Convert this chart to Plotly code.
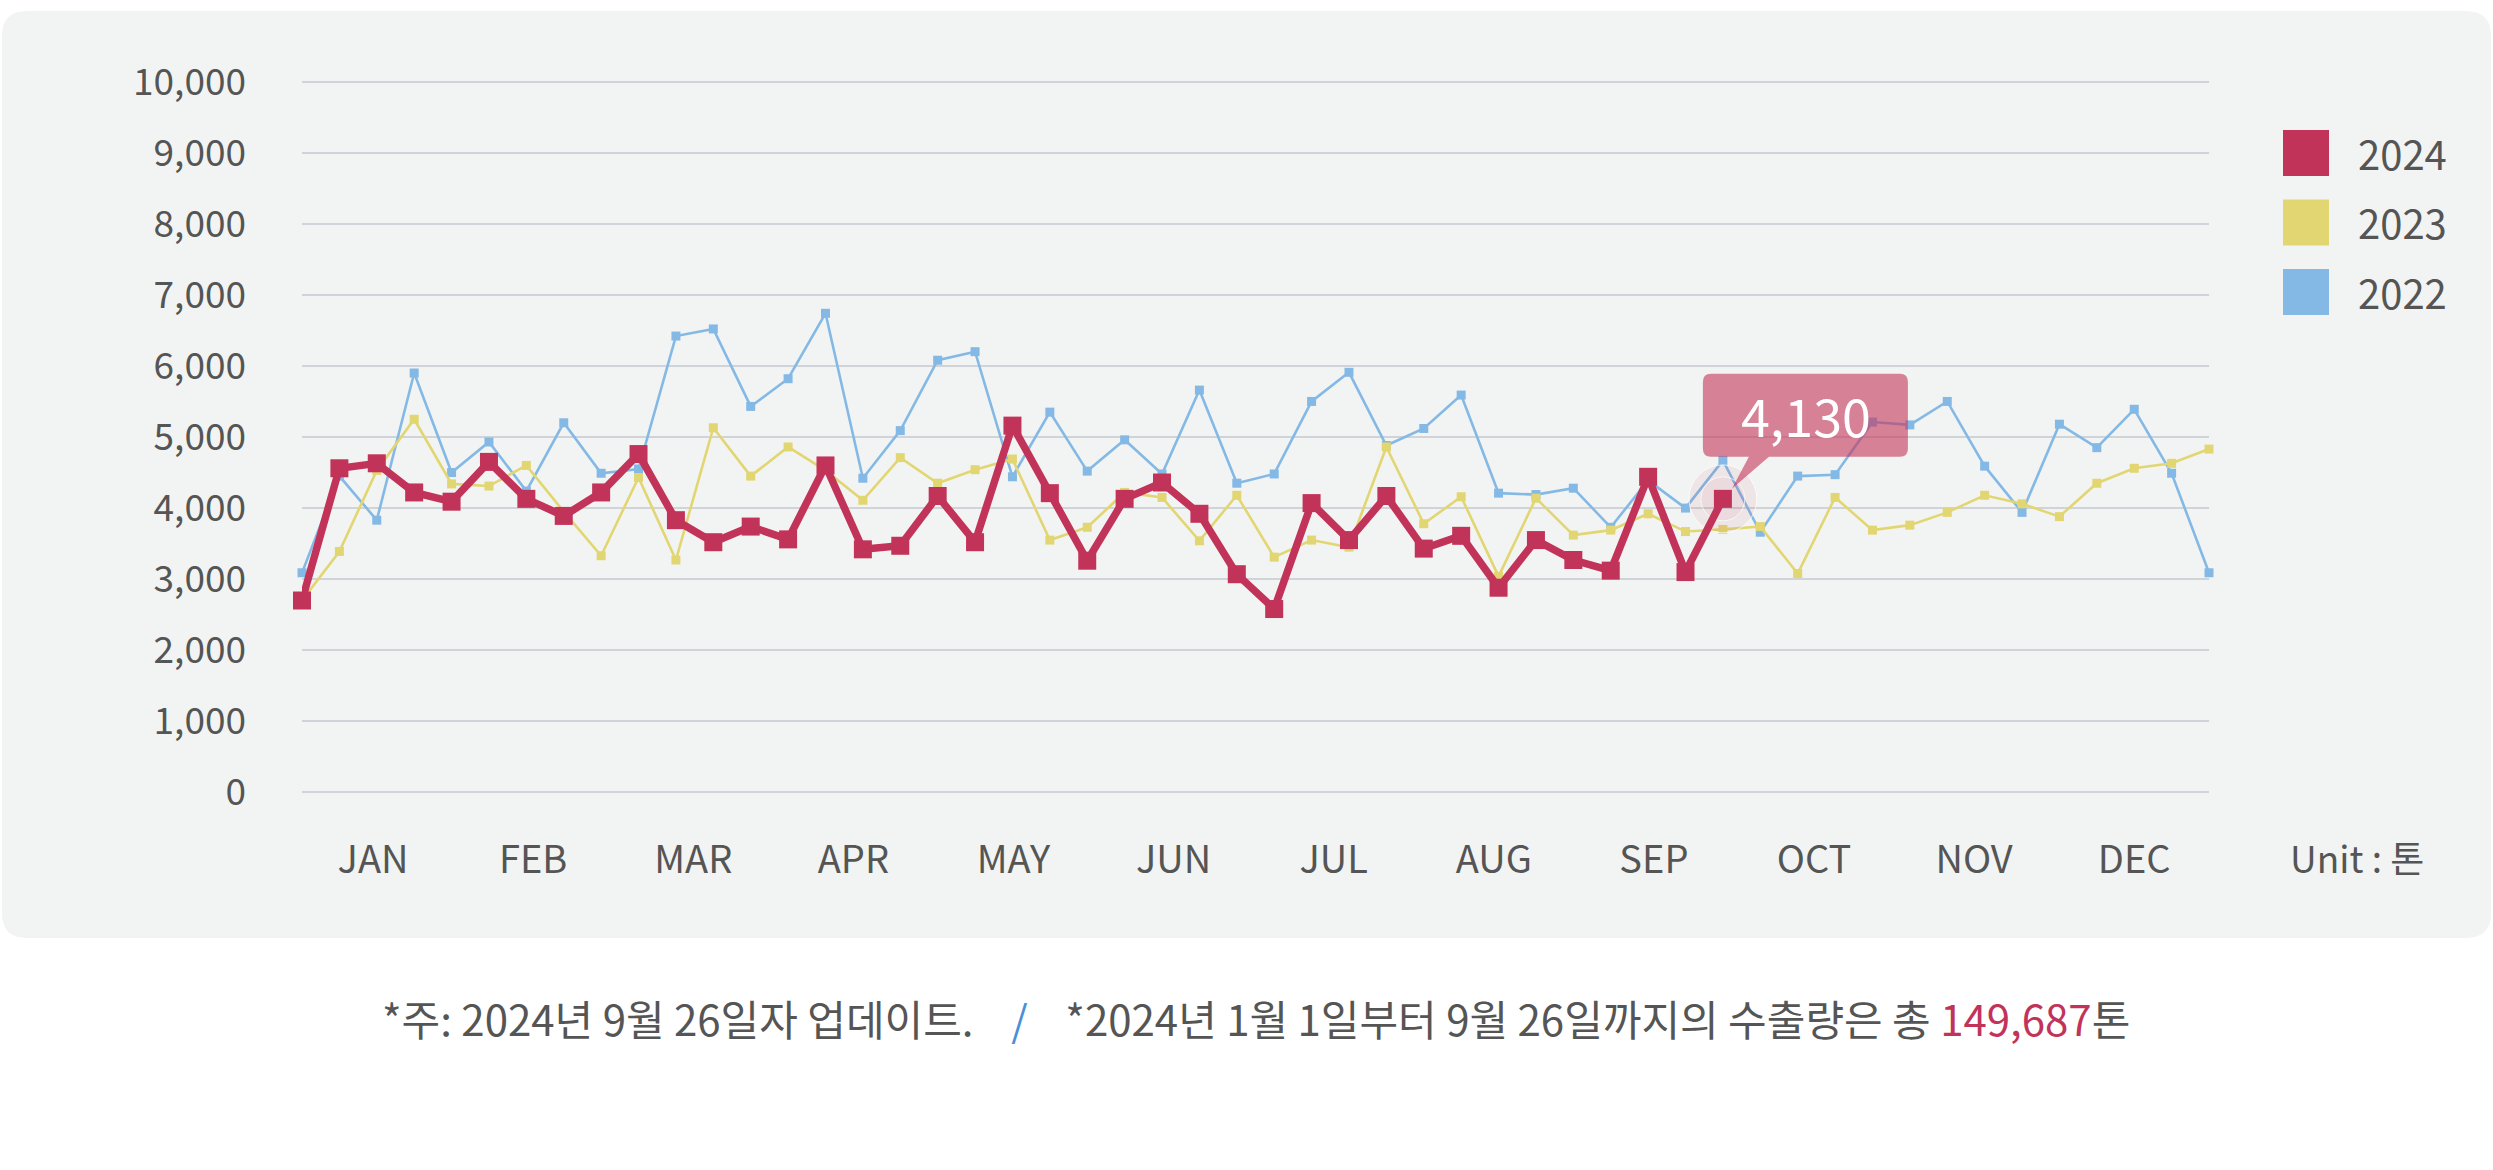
import plotly.graph_objects as go
import numpy as np

# ---------------- data ----------------
weeks = list(range(52))
months = ["JAN", "FEB", "MAR", "APR", "MAY", "JUN", "JUL", "AUG", "SEP", "OCT", "NOV", "DEC"]
month_pos = list(np.linspace(1.9, 49.0, 12))
y_ticks = list(range(0, 10001, 1000))

v2024 = [2700, 4560, 4630, 4220, 4090, 4650, 4130, 3890, 4220, 4760,
         3830, 3520, 3740, 3560, 4600, 3420, 3470, 4170, 3520, 5160,
         4210, 3260, 4130, 4360, 3920, 3070, 2580, 4070, 3550, 4170,
         3430, 3610, 2880, 3550, 3270, 3120, 4440, 3100, 4130]
v2023 = [2700, 3390, 4530, 5250, 4340, 4310, 4600, 3950, 3330, 4430,
         3270, 5130, 4450, 4860, 4530, 4110, 4710, 4350, 4540, 4690,
         3550, 3730, 4220, 4150, 3540, 4180, 3310, 3550, 3450, 4860,
         3780, 4160, 3040, 4140, 3620, 3690, 3920, 3670, 3700, 3740,
         3080, 4150, 3690, 3760, 3940, 4180, 4060, 3880, 4350, 4560,
         4630, 4830]
v2022 = [3090, 4450, 3830, 5900, 4500, 4930, 4240, 5200, 4490, 4550,
         6420, 6520, 5430, 5820, 6740, 4420, 5090, 6080, 6200, 4440,
         5350, 4520, 4960, 4480, 5660, 4350, 4480, 5500, 5910, 4880,
         5120, 5590, 4210, 4190, 4280, 3730, 4390, 4000, 4670, 3660,
         4450, 4470, 5210, 5170, 5500, 4590, 3940, 5180, 4850, 5390,
         4490, 3090]
series_names = ["2024", "2023", "2022"]
total_text = "149,687"

# ---------------- style ----------------
RED = "#c2335a"
YEL = "#e2d672"
BLU = "#84b9e6"
TXT = "#555555"
FONT = "Noto Sans CJK KR"
W, H = 2493, 1170
ML, MR, MT, MB = 302, 284, 46, 342
PW, PH = W - ML - MR, H - MT - MB


def px(x):
    return (x - ML) / PW


def py(y):
    return (H - MB - y) / PH


fig = go.Figure()

fig.add_trace(go.Scatter(x=weeks[:len(v2022)], y=v2022, mode="lines+markers", name="2022",
                         line=dict(color=BLU, width=2.6),
                         marker=dict(symbol="square", size=9, color=BLU),
                         cliponaxis=False, showlegend=False, hoverinfo="skip"))
fig.add_trace(go.Scatter(x=weeks[:len(v2023)], y=v2023, mode="lines+markers", name="2023",
                         line=dict(color=YEL, width=2.6),
                         marker=dict(symbol="square", size=9, color=YEL),
                         cliponaxis=False, showlegend=False, hoverinfo="skip"))

last_i = len(v2024) - 1
last_v = v2024[-1]
# hover halo on last point
fig.add_trace(go.Scatter(x=[weeks[last_i]], y=[last_v], mode="markers",
                         marker=dict(symbol="circle", size=[68], color="rgba(196,51,90,0.10)"),
                         cliponaxis=False, showlegend=False, hoverinfo="skip"))
fig.add_trace(go.Scatter(x=[weeks[last_i]], y=[last_v], mode="markers",
                         marker=dict(symbol="circle", size=[44], color="rgba(196,51,90,0.08)"),
                         cliponaxis=False, showlegend=False, hoverinfo="skip"))

fig.add_trace(go.Scatter(x=weeks[:len(v2024)], y=v2024, mode="lines+markers", name="2024",
                         line=dict(color=RED, width=7.5),
                         marker=dict(symbol="square", size=18, color=RED),
                         cliponaxis=False, showlegend=False, hoverinfo="skip"))

shapes = []
# card background (rounded rectangle), pixel path anchored at paper origin
cx0, cx1, cy0, cy1, r = 2 - ML, 2491 - ML, 938 - (H - MB), 11 - (H - MB), 25
top = -cy1
bot = -cy0
card_path = (f"M{cx0 + r},{top} L{cx1 - r},{top} Q{cx1},{top} {cx1},{top - r} "
             f"L{cx1},{bot + r} Q{cx1},{bot} {cx1 - r},{bot} L{cx0 + r},{bot} "
             f"Q{cx0},{bot} {cx0},{bot + r} L{cx0},{top - r} Q{cx0},{top} {cx0 + r},{top} Z")
shapes.append(dict(type="path", xref="paper", yref="paper", xsizemode="pixel", ysizemode="pixel",
                   xanchor=0, yanchor=0, path=card_path, fillcolor="#f2f4f3",
                   line=dict(width=0), layer="below"))

# legend squares
for i, col in enumerate([RED, YEL, BLU]):
    y0 = 130 + i * 69.5
    shapes.append(dict(type="rect", xref="paper", yref="paper",
                       x0=px(2283), x1=px(2329), y0=py(y0 + 46), y1=py(y0),
                       fillcolor=col, line=dict(width=0), layer="above"))

# callout bubble anchored at last 2024 point (pixel offsets, up positive)
bx0, bx1, by0, by1, br = -20, 185, 42, 125, 8
bubble = (f"M{bx0 + br},{by1} L{bx1 - br},{by1} Q{bx1},{by1} {bx1},{by1 - br} "
          f"L{bx1},{by0 + br} Q{bx1},{by0} {bx1 - br},{by0} L46,{by0} L9,10 L26,{by0} "
          f"L{bx0 + br},{by0} Q{bx0},{by0} {bx0},{by0 + br} L{bx0},{by1 - br} "
          f"Q{bx0},{by1} {bx0 + br},{by1} Z")
shapes.append(dict(type="path", xref="x", yref="y", xsizemode="pixel", ysizemode="pixel",
                   xanchor=weeks[last_i], yanchor=last_v, path=bubble,
                   fillcolor="rgba(196,51,90,0.6)", line=dict(width=0), layer="above"))

annotations = []
annotations.append(dict(x=weeks[last_i], y=last_v, xref="x", yref="y", text=f"{last_v:,}",
                        showarrow=False, xshift=83, yshift=84,
                        font=dict(family=FONT, size=52, color="white")))
for i, name in enumerate(series_names):
    yc = 153 + i * 69.5
    annotations.append(dict(x=px(2356), y=py(yc), xref="paper", yref="paper", text=name,
                            showarrow=False, xanchor="left", yanchor="middle",
                            font=dict(family=FONT, size=40, color=TXT)))
annotations.append(dict(x=px(2357), y=py(857), xref="paper", yref="paper", text="Unit : 톤",
                        showarrow=False, xanchor="center", yanchor="middle",
                        font=dict(family=FONT, size=37, color=TXT)))
nb = "&nbsp;" * 4
footer = (f"*주: 2024년 9월 26일자 업데이트.{nb}<span style='color:#4a8fd8'>/</span>{nb}"
          f"*2024년 1월 1일부터 9월 26일까지의 수출량은 총 "
          f"<span style='color:{RED}'>{total_text}</span>톤")
annotations.append(dict(x=px(1256), y=py(1017), xref="paper", yref="paper", text=footer,
                        showarrow=False, xanchor="center", yanchor="middle",
                        font=dict(family=FONT, size=42, color=TXT)))

fig.update_layout(
    width=W, height=H,
    margin=dict(l=ML, r=MR, t=MT, b=MB, pad=0),
    paper_bgcolor="white", plot_bgcolor="rgba(0,0,0,0)",
    shapes=shapes, annotations=annotations,
    showlegend=False,
    xaxis=dict(range=[0, 51], tickmode="array", tickvals=month_pos, ticktext=months,
               showgrid=False, zeroline=False, showline=False, ticks="",
               ticklabelstandoff=6,
               tickfont=dict(family=FONT, size=38, color=TXT)),
    yaxis=dict(range=[-500, 10500], tickmode="array", tickvals=y_ticks,
               tickformat=",", showgrid=True, gridcolor="#d0d3d8", gridwidth=2.2,
               zeroline=False, showline=False, ticks="", ticklabelstandoff=55,
               tickfont=dict(family=FONT, size=37, color=TXT)),
)

fig.write_html("out.html", config={"displayModeBar": False},
               post_script="document.body.style.margin='0';")
